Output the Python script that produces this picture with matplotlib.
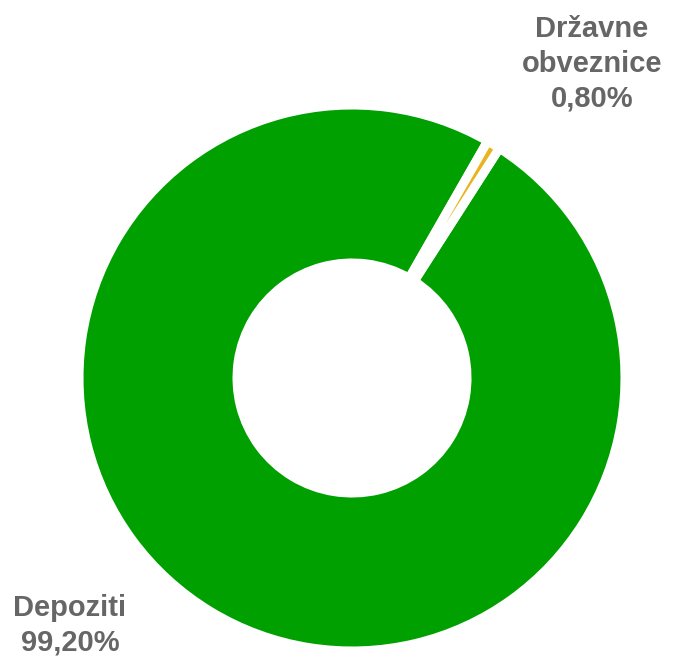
import matplotlib.pyplot as plt

labels = ["Depoziti", "Državne\nobveznice"]
values = [99.20, 0.80]
colors = ["#00A000", "#E8B420"]

fig = plt.figure(figsize=(6.73, 6.65), dpi=100)
ax = fig.add_axes([0, 0, 1, 1])

ax.pie(values, colors=colors, startangle=60.2, center=(352, 287), radius=273,
       wedgeprops=dict(width=158, edgecolor="white", linewidth=6.5))

ax.set_xlim(0, 673)
ax.set_ylim(0, 665)
ax.set_aspect("equal")
ax.axis("off")

txt = dict(ha="center", va="center", fontsize=21, fontweight="bold",
           color="#666666", family="Liberation Sans", linespacing=1.3)
ax.text(592, 665 - 64, f"{labels[1]}\n{values[1]:.2f}%".replace(".", ","), **txt)
ax.text(70, 665 - 625, f"{labels[0]}\n{values[0]:.2f}%".replace(".", ","), **txt)

plt.savefig("out.png", dpi=100)
